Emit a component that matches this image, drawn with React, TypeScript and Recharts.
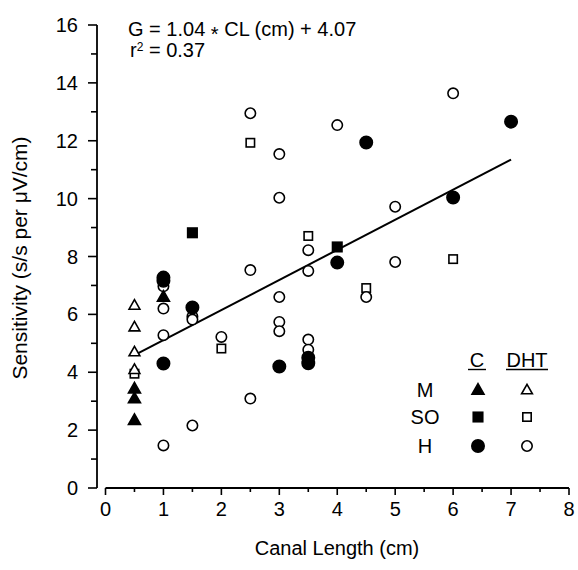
import React from 'react';
import { ScatterChart, Scatter, XAxis, YAxis, ReferenceLine } from 'recharts';

const X_TICKS = [0, 0.5, 1, 1.5, 2, 2.5, 3, 3.5, 4, 4.5, 5, 5.5, 6, 6.5, 7, 7.5, 8];
const Y_TICKS = [0, 1, 2, 3, 4, 5, 6, 7, 8, 9, 10, 11, 12, 13, 14, 15, 16];

// M = triangles, SO = squares, H = circles ; C = filled, DHT = open
const M_C = [
  { x: 0.5, y: 3.43 }, { x: 0.5, y: 3.09 }, { x: 0.5, y: 2.34 }, { x: 1, y: 6.6 },
];
const M_DHT = [
  { x: 0.5, y: 6.31 }, { x: 0.5, y: 5.56 }, { x: 0.5, y: 4.7 }, { x: 0.5, y: 4.09 },
];
const SO_C = [
  { x: 1.5, y: 8.82 }, { x: 4, y: 8.33 },
];
const SO_DHT = [
  { x: 0.5, y: 3.95 }, { x: 2, y: 4.82 }, { x: 2.5, y: 11.93 }, { x: 3.5, y: 8.71 },
  { x: 4.5, y: 6.91 }, { x: 6, y: 7.91 },
];
const H_C = [
  { x: 1, y: 7.27 }, { x: 1, y: 7.16 }, { x: 1, y: 4.3 }, { x: 1.5, y: 6.24 },
  { x: 3, y: 4.2 }, { x: 3.5, y: 4.5 }, { x: 3.5, y: 4.31 }, { x: 4, y: 7.79 },
  { x: 4.5, y: 11.94 }, { x: 6, y: 10.04 }, { x: 7, y: 12.66 },
];
const H_DHT = [
  { x: 1, y: 6.97 }, { x: 1, y: 6.2 }, { x: 1, y: 5.28 }, { x: 1, y: 1.47 },
  { x: 1.5, y: 5.93 }, { x: 1.5, y: 5.82 }, { x: 1.5, y: 2.16 }, { x: 2, y: 5.22 },
  { x: 2.5, y: 12.95 }, { x: 2.5, y: 7.53 }, { x: 2.5, y: 3.09 },
  { x: 3, y: 11.54 }, { x: 3, y: 10.03 }, { x: 3, y: 6.6 }, { x: 3, y: 5.74 }, { x: 3, y: 5.42 },
  { x: 3.5, y: 8.22 }, { x: 3.5, y: 7.5 }, { x: 3.5, y: 5.13 }, { x: 3.5, y: 4.78 },
  { x: 4, y: 12.54 }, { x: 4.5, y: 6.6 }, { x: 5, y: 9.72 }, { x: 5, y: 7.81 }, { x: 6, y: 13.64 },
];

// regression G = 1.04 * CL + 4.07, drawn over the sampled range
const FIT_SLOPE = 1.04;
const FIT_INTERCEPT = 4.07;
const FIT_RANGE = [0.5, 7];
const fitData = FIT_RANGE.map(x => ({ x, y: FIT_SLOPE * x + FIT_INTERCEPT }));

const FONT = '"Liberation Sans", Arial, sans-serif';
const INK = '#000';

type Kind = 'tri' | 'sq' | 'circ';

const Marker = ({ cx, cy, kind, filled }: { cx: number; cy: number; kind: Kind; filled: boolean }) => {
  const fill = filled ? INK : '#fff';
  const sw = 1.6;
  if (kind === 'circ') {
    return <circle cx={cx} cy={cy} r={filled ? 6.2 : 5.2} fill={fill} stroke={INK} strokeWidth={sw} />;
  }
  if (kind === 'sq') {
    const s = filled ? 9.5 : 8.4;
    return <rect x={cx - s / 2} y={cy - s / 2} width={s} height={s} fill={fill} stroke={INK} strokeWidth={sw} />;
  }
  const h = filled ? 10.5 : 9.5;
  const w = filled ? 6 : 5.4;
  return (
    <polygon
      points={`${cx},${cy - h * 0.6} ${cx + w},${cy + h * 0.4} ${cx - w},${cy + h * 0.4}`}
      fill={fill}
      stroke={INK}
      strokeWidth={sw}
    />
  );
};

const shapeOf = (kind: Kind, filled: boolean) => (props: any) => (
  <Marker cx={props.cx} cy={props.cy} kind={kind} filled={filled} />
);

const XTick = (props: any) => {
  const { x, y, payload } = props;
  const major = Number.isInteger(payload.value);
  return (
    <g>
      <line x1={x} y1={y} x2={x} y2={y + (major ? 7 : 4)} stroke={INK} strokeWidth={1.6} />
      {major && (
        <text x={x} y={y + 28} textAnchor="middle" fontSize={20} fontFamily={FONT} fill={INK}>
          {payload.value}
        </text>
      )}
    </g>
  );
};

const YTick = (props: any) => {
  const { x, y, payload } = props;
  const major = payload.value % 2 === 0;
  return (
    <g>
      <line x1={x} y1={y} x2={x - (major ? 9 : 6)} y2={y} stroke={INK} strokeWidth={1.6} />
      {major && (
        <text x={x - 19} y={y + 7} textAnchor="end" fontSize={20} fontFamily={FONT} fill={INK}>
          {payload.value}
        </text>
      )}
    </g>
  );
};

const Legend = () => {
  const rows: { label: string; kind: Kind; y: number }[] = [
    { label: 'M', kind: 'tri', y: 390 },
    { label: 'SO', kind: 'sq', y: 417 },
    { label: 'H', kind: 'circ', y: 446 },
  ];
  return (
    <g fontFamily={FONT} fontSize={20} fill={INK}>
      <text x={477} y={367} textAnchor="middle">C</text>
      <line x1={468} x2={486} y1={369.5} y2={369.5} stroke={INK} strokeWidth={1.4} />
      <text x={527} y={367} textAnchor="middle">DHT</text>
      <line x1={506} x2={548} y1={369.5} y2={369.5} stroke={INK} strokeWidth={1.4} />
      {rows.map(r => (
        <g key={r.label}>
          <text x={425} y={r.y + 7} textAnchor="middle">{r.label}</text>
          <Marker cx={478} cy={r.y} kind={r.kind} filled />
          <Marker cx={527} cy={r.y} kind={r.kind} filled={false} />
        </g>
      ))}
    </g>
  );
};

const W = 578;
const H = 570;

export default function App() {
  return (
    <div style={{ position: 'absolute', left: 0, top: 0, width: W, height: H, background: '#fff' }}>
      <ScatterChart width={W} height={H} margin={{ top: 25, right: 9, bottom: 0, left: 0 }}>
        <XAxis
          type="number"
          dataKey="x"
          domain={[0, 8]}
          ticks={X_TICKS}
          interval={0}
          padding={{ left: 8.5, right: 0 }}
          axisLine={false}
          tickLine={false}
          tickSize={0}
          tickMargin={0}
          tick={<XTick />}
          height={82}
        />
        <YAxis
          type="number"
          dataKey="y"
          domain={[0, 16]}
          ticks={Y_TICKS}
          interval={0}
          axisLine={{ stroke: INK, strokeWidth: 1.8 }}
          tickLine={false}
          tickSize={0}
          tickMargin={0}
          tick={<YTick />}
          width={97}
        />
        <ReferenceLine
          segment={[{ x: 0, y: 0 }, { x: 8, y: 0 }]}
          stroke={INK}
          strokeWidth={1.8}
          ifOverflow="visible"
        />
        <Scatter data={fitData} line={{ stroke: INK, strokeWidth: 2 }} shape={() => <g />} isAnimationActive={false} />
        <Scatter data={SO_DHT} shape={shapeOf('sq', false)} isAnimationActive={false} />
        <Scatter data={H_DHT} shape={shapeOf('circ', false)} isAnimationActive={false} />
        <Scatter data={M_DHT} shape={shapeOf('tri', false)} isAnimationActive={false} />
        <Scatter data={SO_C} shape={shapeOf('sq', true)} isAnimationActive={false} />
        <Scatter data={M_C} shape={shapeOf('tri', true)} isAnimationActive={false} />
        <Scatter data={H_C} shape={shapeOf('circ', true)} isAnimationActive={false} />
      </ScatterChart>
      <svg
        width={W}
        height={H}
        style={{ position: 'absolute', left: 0, top: 0, pointerEvents: 'none' }}
      >
        <text x={128} y={36} fontFamily={FONT} fontSize={20} fill={INK}>
          G = 1.04 <tspan dy={5}>*</tspan><tspan dy={-5}> CL (cm) + 4.07</tspan>
        </text>
        <text x={130} y={57} fontFamily={FONT} fontSize={20} fill={INK}>
          r<tspan dy={-6} fontSize={12}>2</tspan><tspan dy={6}> = 0.37</tspan>
        </text>
        <text
          x={27}
          y={258}
          transform="rotate(-90, 27, 258)"
          textAnchor="middle"
          fontFamily={FONT}
          fontSize={21}
          fill={INK}
        >
          Sensitivity (s/s per μV/cm)
        </text>
        <text x={337} y={555} textAnchor="middle" fontFamily={FONT} fontSize={20} fill={INK}>
          Canal Length (cm)
        </text>
        <Legend />
      </svg>
    </div>
  );
}
